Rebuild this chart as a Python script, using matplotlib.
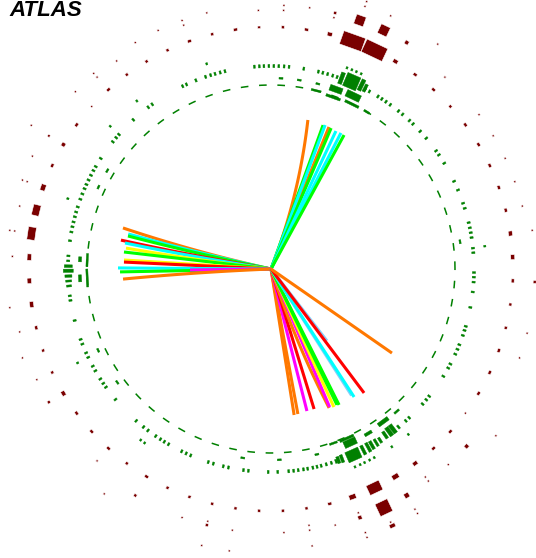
import numpy as np
import matplotlib
matplotlib.use("Agg")
import matplotlib.pyplot as plt
from matplotlib.collections import PolyCollection

# ---------------- data ----------------
# tracks: end azimuth (deg), length (px), colour, sagitta (px)
track_phi = [76.1, 67.8, 70.1, 69.4, 66.9, 64.8, 62.8, 61.4,
             164.5, 166.2, 167.0, 169.1, 169.9, 171.8, 173.4, 176.5, 177.3, 179.6, 181.1, 180.7, 183.9,
             -81.0, -79.5, -75.8, -72.9, -67.3, -67.0, -65.5, -64.1, -63.4, -52.1, -57.5, -57.0, -53.1, -34.8]
track_len = [153.5, 153.4, 153.0, 153.8, 153.2, 152.5, 153.0, 152.6,
             153.6, 147.0, 146.8, 152.8, 148.3, 146.5, 148.0, 147.3, 147.2, 153.0, 151.0, 81.0, 148.3,
             147.8, 147.5, 146.5, 146.5, 150.6, 150.0, 151.7, 151.0, 152.0, 91.0, 150.0, 152.6, 155.0, 147.3]
track_col = ["#ff7800", "#ff7800", "#00ff00", "#00ffff", "#00ff00", "#00ffff", "#00ffff", "#00ff00",
             "#ff7800", "#00ffff", "#00ff00", "#ff0000", "#00ffff", "#ffff00", "#00ff00", "#ffff00", "#ff0000",
             "#00ffff", "#00ff00", "#ff00ff", "#ff7800",
             "#ff7800", "#ff7800", "#ff00ff", "#ff0000", "#ff7800", "#ff00ff", "#ffff00", "#00ff00", "#00ff00",
             "#87cefa", "#87cefa", "#00ffff", "#ff0000", "#ff7800"]
track_sag = [-5, 0, 0, 0, 0, 0, 0, 0,
             2, 1, 1, 1, 1, 1, 0, 0, 0, 0, 0, 0, -1,
             0, 0, 0, 0, -3, 0, 0, 0, 0, 0, 0, 0, 0, 0]

# EM calorimeter: small cells, middle layer (r ~ 203)
em_mid_phi = [-2.3, -1.0, 4.6, 5.9, 8.9, 10.3, 11.7, 13.2, 17.4, 18.9, 22.9, 25.6, 31.4, 34.2, 35.6,
              40.1, 42.7, 45.6, 47.0, 49.6, 51.1, 54.0, 55.5, 56.9, 58.2, 61.0, 62.3, 71.0, 72.3, 73.8,
              75.2, 76.5, 80.7, 84.9, 86.3, 87.8, 89.2, 90.6, 92.0, 93.3, 94.7, 103.1, 104.5, 106.0,
              107.3, 108.8, 111.7, 114.6, 115.8, 125.8, 127.2, 132.7, 138.5, 139.7, 141.2, 147.0, 149.7,
              151.0, 152.5, 154.0, 155.4, 156.7, 158.3, 159.9, 162.2, 163.7, 165.1, 166.6, 168.0, 169.5,
              172.0, 176.3, 177.7, 187.6, 188.9, 194.7, 200.3, 201.7, 204.4, 205.8, 208.6, 210.1, 212.8,
              214.3, 215.6, 220.0, 228.4, 231.1, 232.7, 235.4, 237.0, 238.3, 239.7, 243.9, 245.3, 246.7,
              252.0, 253.5, 256.4, 257.9, 262.2, 263.6, 269.2, -88.1, -85.0, -83.6, -82.3, -80.8, -79.6,
              -78.1, -76.9, -75.7, -74.2, -72.7, -48.4, -47.1, -41.7, -40.1, -38.8, -31.9, -29.2, -27.9,
              -24.8, -23.3, -21.9, -19.1, -17.6, -16.4, -10.9, -6.5, -3.7]
# EM back layer (r ~ 215)
em_back_phi = [107.4, 128.6, 138.4, 160.9, 6.1, 205.9, 232.7, 234.0, -50.3, -55.8,
               69.3, 67.9, 66.6, 65.2, -61.3, -62.7, -64.2, -65.5, -67.0]
# EM strip layer (r ~ 191)
em_strip_phi = [149.0, 154.6, 8.2, 205.2, 216.4, 261.5, -87.5, -76.1, 87.0, 81.5, 75.8]

# EM cluster cells: azimuth, radius, tangential width, radial depth
clu_phi = [66.7, 69.7, 63.8, 62.5, 70.1, 64.6, 70.1, 63.9, 75.8, 58.7,
           -66.1, -65.5, -70.6, -69.5, -71.3, -63.0, -61.4, -60.2, -58.8, -57.5, -55.5, -54.0, -52.7, -51.1,
           -59.4, -53.7, -48.6, -65.9, -70.3,
           179.2, 180.5, 182.0, 183.4, 184.8, 177.1, 182.8, 177.2, 182.8]
clu_r = [204, 203.4, 205, 204, 191, 191.6, 182.6, 183.7, 184, 184,
         203.4, 190.8, 202.5, 202.5, 203, 203.2, 203.1, 203, 203, 203, 201.4, 201, 201, 203,
         191, 189.5, 190, 185.5, 185,
         202.7, 202.7, 202.7, 202.7, 202.7, 191.2, 191.2, 184, 184]
clu_w = [14, 4, 4, 3, 13, 15, 15, 15, 10, 6,
         14, 13, 3, 3, 2, 3, 3, 3, 2.5, 2.5, 3, 4, 4, 2,
         8, 12, 6, 15, 8,
         2.7, 3.3, 2.5, 2, 2, 5, 7, 13, 18]
clu_h = [14, 12, 12, 8, 6, 7, 2.5, 2.5, 2, 2,
         11, 7, 7, 8, 4, 10, 10, 9, 8, 6, 8, 10, 10, 4,
         3, 4, 2, 2.5, 2,
         8, 10, 7, 6, 5, 3, 3, 2, 2]

# Hadronic (tile) calorimeter, 64 modules; inner layer (r ~ 242) size per module
tile_w = [5, 5, 4, 4, 4, 4, 4, 3, 4, 4, 5, 23, 23, 5, 4, 3,
          3, 4, 3, 4, 3, 3, 3, 4, 2, 4, 4, 4, 6.5, 11, 13, 6.5,
          5.5, 6, 4, 3, 3, 5, 4, 4, 4, 3, 4, 3, 3, 3, 3, 3,
          3, 3, 4, 7, 14, 7, 5, 4, 4, 2, 4, 4, 4, 3, 3, 4]
tile_h = [4, 4, 3, 3, 3, 3, 3, 3, 3, 3, 4, 14, 14, 4, 3, 3,
          2.5, 3, 3, 3, 3, 3, 3, 3, 2, 3, 4, 3, 5, 7.5, 8, 4.3,
          4.3, 4, 3, 3, 3, 4, 3, 3, 3, 3, 3, 3, 3, 3, 3, 3,
          3, 3, 3, 5, 10.5, 5, 4, 3, 3, 2, 3, 3, 3, 3, 3, 3]
# outer tile layers: module, radius, tangential, radial
out_mod = [18, 19, 19, 20, 21, 22, 23, 23, 24, 26, 27, 28, 28, 29, 30, 30, 31, 16,
           15, 15, 14, 13, 13, 12, 11, 10, 8, 6, 5, 4, 3, 2, 1,
           63, 61, 60,
           56, 55, 54, 54, 53, 52, 51, 51, 50, 49, 49, 48,
           33, 34, 35, 36, 37, 40, 42, 44, 45, 45, 46,
           26, 12, 12, 11, 9, 57, 53, 53, 52, 52, 51, 51, 49, 41, 45, 46]
out_r = [264, 264, 259, 264, 264, 259, 264, 259, 264, 259, 264, 264, 259, 259, 264, 259, 259, 259,
         264, 259, 264, 264, 259, 264, 264, 264, 259, 259, 259, 259, 259, 259, 264,
         264, 264, 264,
         264, 264, 259, 264, 264, 264, 264, 259, 264, 259, 264, 264,
         264, 259, 264, 259, 259, 259, 264, 264, 260, 264, 264,
         279.5, 284, 279, 280, 280, 280, 280, 285, 284, 280, 280, 285, 280, 280, 285, 285]
out_w = [2, 2, 2, 2, 2, 2, 2, 2, 2, 2.5, 2, 2, 2, 2, 2, 2, 2, 2,
         2, 2, 2, 3, 2, 10, 10, 4, 2, 2, 2, 2, 2, 2, 2,
         3, 2, 2,
         4, 2, 2, 2, 5, 13.5, 4, 2, 2, 2, 2, 2,
         2, 2, 2, 2, 3, 2, 3, 2, 2, 3, 2,
         2, 2, 2, 2, 2, 2, 2, 2, 6, 2, 2, 2, 2, 2, 2, 2]
out_h = [2, 2, 2, 2, 2, 2, 2, 2, 2, 2.5, 2, 2, 2, 2, 2, 2, 2, 2,
         2, 2, 2, 3, 2, 10, 10, 4, 2, 2, 2, 2, 2, 2, 2,
         3, 2, 2,
         4, 2, 2, 2, 5, 13.5, 4, 2, 2, 2, 2, 2,
         2, 2, 2, 2, 3, 2, 3, 2, 2, 3, 2,
         2, 2, 2, 2, 2, 2, 2, 2, 4, 2, 2, 2, 2, 2, 2, 2]

EM_GREEN = "#008000"
HAD_RED = "#7a0000"
CX, CY = 271, 269
W, H = 536, 558


def cell_polys(phi_deg, r, w, h):
    polys = []
    for p, rr, ww, hh in zip(phi_deg, r, w, h):
        a = np.deg2rad(p)
        u = np.array([np.cos(a), np.sin(a)])
        t = np.array([-np.sin(a), np.cos(a)])
        c = rr * u
        polys.append([c - hh / 2 * u - ww / 2 * t, c + hh / 2 * u - ww / 2 * t,
                      c + hh / 2 * u + ww / 2 * t, c - hh / 2 * u + ww / 2 * t])
    return polys


fig = plt.figure(figsize=(W / 100, H / 100), dpi=100)
ax = fig.add_axes([0, 0, 1, 1])
ax.set_xlim(-CX, W - CX)
ax.set_ylim(-(H - CY), CY)
ax.axis("off")

# presampler: dashed ring
th = np.linspace(0, 2 * np.pi, 2000)
ax.plot(184 * np.cos(th), 184 * np.sin(th), color=EM_GREEN, lw=1.1,
        ls=(0, (5.0, 7.0)), solid_capstyle="butt", dash_capstyle="butt")

# EM layers
n1 = len(em_mid_phi)
n2 = len(em_back_phi)
n3 = len(em_strip_phi)
polys = cell_polys(em_mid_phi, [203] * n1, [1.8] * n1, [3.2] * n1)
polys += cell_polys(em_back_phi, [215] * n2, [1.8] * n2, [2.2] * n2)
polys += cell_polys(em_strip_phi, [191] * n3, [4] * n3, [1.8] * n3)
polys += cell_polys(clu_phi, clu_r, clu_w, clu_h)
ax.add_collection(PolyCollection(polys, facecolors=EM_GREEN, edgecolors=EM_GREEN, linewidths=0.3))

# Tile calorimeter
mod_phi = [(k + 0.5) * 360.0 / 64 for k in range(64)]
rpolys = cell_polys(mod_phi, [242] * 64, tile_w, tile_h)
rpolys += cell_polys([(k + 0.5) * 360.0 / 64 for k in out_mod], out_r, out_w, out_h)
ax.add_collection(PolyCollection(rpolys, facecolors=HAD_RED, edgecolors="white", linewidths=0.4))

# tracks
for p, L, col, s in zip(track_phi, track_len, track_col, track_sag):
    a = np.deg2rad(p)
    end = L * np.array([np.cos(a), np.sin(a)])
    nrm = np.array([-np.sin(a), np.cos(a)])
    ctrl = end / 2 + 2 * s * nrm
    tt = np.linspace(0, 1, 40)[:, None]
    pts = 2 * (1 - tt) * tt * ctrl + tt ** 2 * end
    ax.plot(pts[:, 0], pts[:, 1], color=col, lw=2.2, solid_capstyle="butt")

ax.text(9 - CX, CY - 15.5, "ATLAS", fontsize=16, fontweight="bold", fontstyle="italic",
        family=["Liberation Sans", "DejaVu Sans"], ha="left", va="baseline", color="black")

fig.savefig("out.png", dpi=100, facecolor="white")
